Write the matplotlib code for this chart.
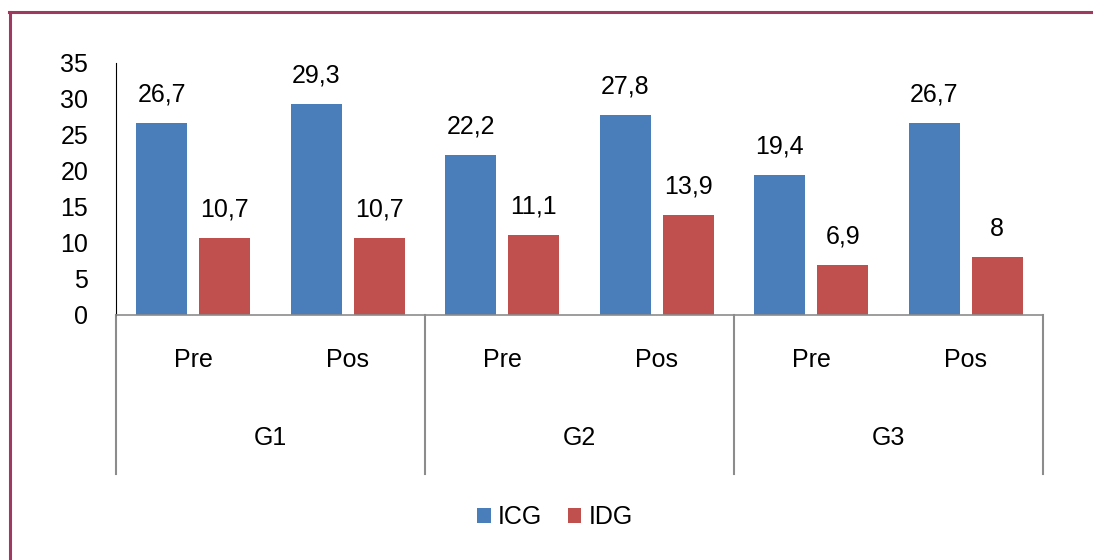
import matplotlib
matplotlib.use("Agg")
import matplotlib.pyplot as plt
import numpy as np

groups = ["G1", "G2", "G3"]
phases = ["Pre", "Pos"]
icg = [26.7, 29.3, 22.2, 27.8, 19.4, 26.7]
idg = [10.7, 10.7, 11.1, 13.9, 6.9, 8.0]
yticks = [0, 5, 10, 15, 20, 25, 30, 35]

plt.rcParams["font.family"] = ["Liberation Sans Narrow", "Liberation Sans", "DejaVu Sans"]
fs = 18

fig = plt.figure(figsize=(10.93, 5.6), dpi=100)
ax = fig.add_axes([116 / 1093, 1 - 315 / 560, (1043 - 116) / 1093, (315 - 63) / 560])

x = np.arange(len(icg))
w = 0.33
b1 = ax.bar(x - 0.204, icg, w, color="#4a7ebb", label="ICG")
b2 = ax.bar(x + 0.204, idg, w, color="#c0504d", label="IDG")

def fmt(v):
    s = f"{v:.1f}".replace(".", ",")
    return s[:-2] if s.endswith(",0") else s

for bars, vals in ((b1, icg), (b2, idg)):
    for r, v in zip(bars, vals):
        ax.annotate(fmt(v), (r.get_x() + r.get_width() / 2, v), xytext=(0, 12),
                    textcoords="offset points", ha="center", va="bottom", fontsize=fs)

ax.set_xlim(-0.5, len(icg) - 0.5)
ax.set_ylim(0, 35)
ax.set_yticks(yticks)
ax.set_yticklabels([str(t) for t in yticks], fontsize=fs)
ax.tick_params(axis="y", length=0, pad=20)
ax.set_xticks([])
for s in ["top", "right"]:
    ax.spines[s].set_visible(False)
ax.spines["left"].set_color("black")
ax.spines["bottom"].set_color("#8c8c8c")
ax.spines["bottom"].set_linewidth(1.2)

# hierarchical category labels below the axis
trans = ax.get_xaxis_transform()
for i, xi in enumerate(x):
    ax.text(xi, -0.18, phases[i % 2], transform=trans, ha="center", va="center", fontsize=fs)
for g, name in enumerate(groups):
    ax.text(2 * g + 0.5, -0.49, name, transform=trans, ha="center", va="center", fontsize=fs)
for xs in [-0.5, 1.5, 3.5, 5.5]:
    ax.plot([xs, xs], [0, -0.63], transform=trans, color="#8c8c8c", lw=1.5, clip_on=False)

fig.legend(handles=[b1, b2], loc="center", bbox_to_anchor=(555 / 1093, 1 - 517 / 560),
           ncol=2, frameon=False, fontsize=fs, handlelength=0.55, handleheight=0.55,
           handletextpad=0.3, columnspacing=1.0)

# outer frame (top and left)
fig.add_artist(plt.Line2D([9 / 1093, 1], [1 - 12 / 560, 1 - 12 / 560], color="#a0395e", lw=2.2))
fig.add_artist(plt.Line2D([10 / 1093, 10 / 1093], [0, 1 - 12 / 560], color="#a0395e", lw=2.2))

fig.savefig("out.png", dpi=100)
